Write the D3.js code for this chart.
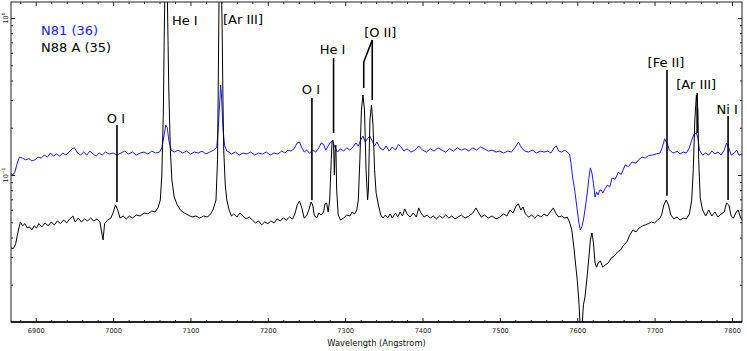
<!DOCTYPE html>
<html><head><meta charset="utf-8">
<script src="https://cdn.jsdelivr.net/npm/d3@7"></script>
<style>body{margin:0;background:#fff}svg{display:block}text{font-family:"DejaVu Sans",sans-serif}</style>
</head><body><svg id="c" width="747" height="351"></svg>
<script>
// ---------- DATA ----------
const seriesNames = ["N81 (36)", "N88 A (35)"];
// N81 (36): [wavelength (Å), flux]
const n81 = [[6868,0.103],[6870,0.100],[6873,0.104],[6876,0.119],[6879,0.130],[6883,0.128],[6887,0.125],[6891,0.127],[6895,0.123],[6899,0.125],[6903,0.130],[6907,0.128],[6911,0.134],[6915,0.130],[6919,0.138],[6923,0.132],[6927,0.136],[6931,0.132],[6935,0.138],[6939,0.134],[6943,0.140],[6947,0.147],[6950,0.149],[6954,0.138],[6958,0.134],[6962,0.140],[6966,0.134],[6970,0.142],[6974,0.136],[6978,0.132],[6982,0.138],[6986,0.134],[6990,0.140],[6995,0.136],[7000,0.138],[7005,0.134],[7010,0.138],[7015,0.142],[7020,0.136],[7025,0.140],[7030,0.134],[7035,0.138],[7040,0.140],[7045,0.136],[7050,0.142],[7055,0.138],[7060,0.140],[7063,0.149],[7066,0.180],[7068,0.208],[7070,0.200],[7072,0.167],[7075,0.144],[7079,0.140],[7084,0.144],[7090,0.138],[7095,0.142],[7100,0.136],[7105,0.140],[7110,0.138],[7115,0.142],[7120,0.136],[7125,0.140],[7130,0.144],[7134,0.150],[7136,0.200],[7138,0.300],[7139,0.374],[7140,0.330],[7142,0.200],[7144,0.155],[7147,0.142],[7150,0.140],[7153,0.136],[7158,0.140],[7163,0.134],[7168,0.138],[7173,0.136],[7178,0.140],[7183,0.134],[7188,0.138],[7193,0.136],[7198,0.140],[7203,0.134],[7208,0.138],[7213,0.136],[7218,0.142],[7222,0.138],[7226,0.144],[7230,0.142],[7234,0.147],[7238,0.160],[7241,0.162],[7244,0.149],[7247,0.140],[7250,0.144],[7254,0.138],[7258,0.144],[7262,0.140],[7266,0.149],[7269,0.160],[7272,0.157],[7275,0.144],[7278,0.153],[7281,0.162],[7284,0.164],[7287,0.149],[7290,0.140],[7294,0.147],[7298,0.142],[7302,0.149],[7306,0.144],[7310,0.151],[7314,0.160],[7317,0.153],[7320,0.167],[7323,0.177],[7326,0.162],[7329,0.171],[7332,0.177],[7335,0.164],[7338,0.153],[7341,0.162],[7345,0.149],[7349,0.144],[7353,0.153],[7357,0.142],[7361,0.151],[7365,0.144],[7369,0.157],[7372,0.151],[7376,0.142],[7380,0.147],[7385,0.140],[7390,0.144],[7395,0.153],[7400,0.144],[7405,0.140],[7410,0.147],[7415,0.142],[7420,0.149],[7425,0.144],[7430,0.140],[7435,0.147],[7440,0.142],[7445,0.149],[7450,0.144],[7455,0.147],[7460,0.142],[7465,0.149],[7470,0.144],[7475,0.151],[7480,0.147],[7485,0.142],[7490,0.144],[7495,0.140],[7500,0.142],[7505,0.138],[7510,0.142],[7515,0.140],[7520,0.151],[7524,0.162],[7528,0.149],[7532,0.142],[7537,0.140],[7542,0.144],[7547,0.138],[7552,0.142],[7557,0.140],[7562,0.142],[7566,0.138],[7570,0.149],[7573,0.153],[7576,0.142],[7580,0.140],[7584,0.144],[7587,0.140],[7590,0.136],[7592,0.118],[7594,0.097],[7597,0.078],[7600,0.0599],[7602,0.050],[7604,0.0447],[7606,0.0470],[7608,0.0517],[7610,0.060],[7613,0.0768],[7615,0.095],[7617,0.111],[7619,0.103],[7621,0.088],[7623,0.0724],[7625,0.078],[7627,0.0746],[7629,0.080],[7631,0.0802],[7633,0.0768],[7636,0.082],[7639,0.0863],[7642,0.084],[7645,0.0957],[7649,0.094],[7653,0.104],[7657,0.101],[7662,0.116],[7666,0.113],[7671,0.121],[7676,0.119],[7680,0.126],[7684,0.130],[7688,0.128],[7692,0.133],[7697,0.134],[7702,0.136],[7707,0.138],[7710,0.150],[7713,0.170],[7716,0.160],[7719,0.145],[7722,0.140],[7725,0.138],[7729,0.142],[7733,0.136],[7737,0.140],[7741,0.138],[7745,0.149],[7748,0.167],[7751,0.182],[7754,0.185],[7756,0.172],[7758,0.144],[7762,0.134],[7766,0.138],[7770,0.134],[7774,0.142],[7778,0.136],[7782,0.140],[7786,0.134],[7790,0.144],[7793,0.160],[7796,0.149],[7799,0.134],[7803,0.138],[7806,0.144],[7809,0.134],[7813,0.136]];
// N88 A (35): [wavelength (Å), flux]
const n88 = [[6868,0.0343],[6871,0.034],[6874,0.0364],[6877,0.0433],[6880,0.0502],[6883,0.0475],[6886,0.049],[6889,0.046],[6892,0.0467],[6895,0.0447],[6898,0.0475],[6901,0.046],[6904,0.049],[6908,0.0467],[6912,0.0495],[6916,0.0475],[6920,0.0502],[6924,0.0481],[6928,0.051],[6932,0.049],[6936,0.0517],[6940,0.0495],[6944,0.0525],[6948,0.0548],[6951,0.0502],[6955,0.0532],[6959,0.0502],[6963,0.0525],[6967,0.051],[6971,0.0532],[6975,0.051],[6979,0.0525],[6983,0.0502],[6986,0.0409],[6987,0.0386],[6989,0.049],[6993,0.0517],[6997,0.0532],[7000,0.0573],[7003,0.0644],[7006,0.0599],[7009,0.0532],[7013,0.0548],[7017,0.0525],[7021,0.0548],[7025,0.0532],[7030,0.0556],[7035,0.0548],[7040,0.0573],[7045,0.0565],[7050,0.059],[7054,0.0581],[7058,0.0617],[7061,0.0693],[7063,0.1],[7065,0.259],[7066,0.724],[7067,1.6],[7068,1.9],[7069,2.0],[7070,1.5],[7071,0.72],[7072,0.348],[7074,0.144],[7076,0.093],[7079,0.0724],[7083,0.0644],[7087,0.0599],[7092,0.0573],[7097,0.0556],[7102,0.054],[7107,0.0548],[7112,0.0532],[7117,0.0548],[7122,0.054],[7126,0.0565],[7129,0.0599],[7133,0.0693],[7135,0.125],[7136,0.403],[7137,1.5],[7138,1.8],[7139,1.9],[7140,1.6],[7141,0.839],[7142,0.3],[7143,0.144],[7145,0.0863],[7147,0.0693],[7150,0.0599],[7153,0.0548],[7156,0.0565],[7160,0.054],[7164,0.0573],[7168,0.0548],[7172,0.0525],[7176,0.054],[7180,0.0517],[7184,0.0495],[7188,0.051],[7192,0.0481],[7196,0.0502],[7200,0.049],[7204,0.051],[7208,0.0495],[7212,0.0525],[7216,0.051],[7220,0.0532],[7224,0.0517],[7228,0.054],[7232,0.0525],[7235,0.0565],[7238,0.0644],[7241,0.0683],[7244,0.0617],[7247,0.0532],[7250,0.0548],[7253,0.0599],[7256,0.0673],[7258,0.0644],[7260,0.0556],[7263,0.0532],[7266,0.0573],[7269,0.0556],[7272,0.0581],[7274,0.0654],[7276,0.0663],[7278,0.0581],[7280,0.0693],[7282,0.125],[7283,0.162],[7284,0.167],[7285,0.155],[7286,0.1],[7287,0.144],[7288,0.155],[7289,0.0802],[7291,0.0556],[7294,0.0517],[7298,0.0532],[7302,0.0556],[7306,0.0548],[7309,0.0581],[7312,0.0565],[7315,0.0599],[7317,0.0693],[7319,0.125],[7321,0.259],[7323,0.323],[7325,0.259],[7327,0.108],[7329,0.0693],[7330,0.0802],[7332,0.224],[7334,0.279],[7336,0.208],[7338,0.108],[7340,0.0768],[7343,0.0644],[7346,0.0556],[7349,0.0532],[7352,0.0556],[7355,0.0532],[7358,0.0565],[7361,0.0532],[7365,0.0573],[7368,0.054],[7371,0.0581],[7374,0.0548],[7377,0.0608],[7380,0.0565],[7384,0.054],[7388,0.0573],[7392,0.054],[7395,0.0617],[7398,0.0573],[7402,0.054],[7406,0.0556],[7410,0.0532],[7414,0.0548],[7418,0.0525],[7422,0.0548],[7426,0.0532],[7430,0.0556],[7434,0.0532],[7438,0.0548],[7442,0.0525],[7446,0.054],[7450,0.0556],[7455,0.0532],[7460,0.0548],[7465,0.0573],[7469,0.0617],[7472,0.0581],[7476,0.054],[7480,0.0556],[7485,0.0532],[7490,0.0548],[7495,0.0525],[7500,0.054],[7505,0.0565],[7509,0.0548],[7513,0.0599],[7517,0.0573],[7521,0.0635],[7524,0.0654],[7527,0.0599],[7530,0.0626],[7533,0.0565],[7537,0.054],[7541,0.0556],[7545,0.0532],[7549,0.0556],[7553,0.054],[7557,0.0565],[7561,0.0548],[7565,0.0581],[7569,0.0617],[7572,0.0573],[7576,0.054],[7580,0.0548],[7584,0.0532],[7587,0.054],[7590,0.0502],[7593,0.0447],[7596,0.0333],[7598,0.0267],[7600,0.0214],[7602,0.016],[7604,0.0105],[7606,0.0105],[7608,0.0149],[7610,0.0167],[7613,0.0231],[7615,0.0296],[7617,0.0386],[7619,0.0427],[7621,0.0369],[7623,0.0275],[7625,0.0259],[7627,0.0275],[7630,0.0283],[7633,0.0259],[7636,0.0267],[7640,0.0275],[7644,0.0296],[7648,0.0305],[7652,0.0323],[7656,0.0333],[7660,0.0358],[7664,0.0374],[7668,0.0415],[7672,0.0447],[7676,0.0434],[7680,0.046],[7684,0.0473],[7688,0.0481],[7692,0.049],[7696,0.0502],[7700,0.0495],[7704,0.0517],[7707,0.0532],[7709,0.0556],[7712,0.0644],[7715,0.0693],[7718,0.0644],[7721,0.0556],[7725,0.0525],[7729,0.054],[7733,0.0517],[7737,0.0532],[7741,0.0525],[7745,0.0565],[7748,0.0693],[7750,0.108],[7752,0.224],[7754,0.323],[7756,0.259],[7757,0.125],[7759,0.0714],[7762,0.0599],[7766,0.0548],[7770,0.0599],[7774,0.0548],[7778,0.0581],[7782,0.054],[7786,0.0565],[7790,0.0581],[7793,0.0663],[7796,0.0644],[7799,0.0548],[7802,0.0532],[7805,0.0573],[7808,0.0599],[7811,0.054],[7813,0.0517]];

// line identifications: name, wavelength of marker, marker top flux, marker bottom flux (null = label only)
const lineNames  = ["O I", "He I", "[Ar III]", "O I", "He I", "[Fe II]", "[Ar III]", "Ni I"];
const lineWaves  = [7005, 7076, 7142, 7257, 7285, 7716, 7755, 7795];
const lineTops   = [0.208, null, null, 0.309, 0.556, 0.466, 0.333, 0.238];
const lineBots   = [0.0673, null, null, 0.0693, 0.185, 0.0737, 0.185, 0.0693];
const labelFlux  = [0.214, 0.902, 0.916, 0.328, 0.59, 0.49, 0.354, 0.245];
// [O II] doublet marker
const o2Waves = [7324, 7335];
const o2Flux  = {left: [0.358, 0.524], apex: 0.724, right: 0.300, label: 0.76};

const xTicks = [6900, 7000, 7100, 7200, 7300, 7400, 7500, 7600, 7700, 7800];
const yTicks = [0.1, 1];
const yTickExp = ["\u22121", "0"];
const xDomain = [6868, 7813];
const yDomain = [0.01158, 1.2646];

// ---------- CHART ----------
const svg = d3.select("#c");
const L = 11, R = 742, T = 2, B = 322;
const x = d3.scaleLinear().domain(xDomain).range([L, R]);
const y = d3.scaleLog().domain(yDomain).range([B, T]);

svg.append("defs").append("clipPath").attr("id", "clip")
  .append("rect").attr("x", L).attr("y", T).attr("width", R - L).attr("height", B - T);

const line = d3.line().x(d => x(d[0])).y(d => y(d[1]));
const g = svg.append("g").attr("clip-path", "url(#clip)");
g.append("path").datum(n81).attr("d", line).attr("fill", "none").attr("stroke", "#1a1aff").attr("stroke-width", 1).attr("stroke-linejoin", "round");
g.append("path").datum(n88).attr("d", line).attr("fill", "none").attr("stroke", "#000").attr("stroke-width", 1).attr("stroke-linejoin", "round");

// markers
const ann = svg.append("g");
lineNames.forEach((nm, i) => {
  if (lineTops[i] !== null) {
    ann.append("line").attr("x1", x(lineWaves[i])).attr("x2", x(lineWaves[i]))
      .attr("y1", y(lineTops[i])).attr("y2", y(lineBots[i]))
      .attr("stroke", "#000").attr("stroke-width", 1.6);
    ann.append("text").attr("x", x(lineWaves[i]) - 1).attr("y", y(labelFlux[i]))
      .attr("text-anchor", "middle").attr("font-size", 13).text(nm);
  } else {
    ann.append("text").attr("x", x(lineWaves[i])).attr("y", y(labelFlux[i]))
      .attr("text-anchor", "start").attr("font-size", 13).text(nm);
  }
});
ann.append("path")
  .attr("d", `M${x(o2Waves[0])},${y(o2Flux.left[0])}L${x(o2Waves[0])},${y(o2Flux.left[1])}L${x(o2Waves[1])},${y(o2Flux.apex)}`)
  .attr("fill", "none").attr("stroke", "#000").attr("stroke-width", 1.6);
ann.append("line").attr("x1", x(o2Waves[1])).attr("x2", x(o2Waves[1]))
  .attr("y1", y(o2Flux.apex)).attr("y2", y(o2Flux.right)).attr("stroke", "#000").attr("stroke-width", 1.6);
ann.append("text").attr("x", x(o2Waves[1]) + 8).attr("y", y(o2Flux.label))
  .attr("text-anchor", "middle").attr("font-size", 13).text("[O II]");

// legend
svg.append("text").attr("x", 41).attr("y", 35).attr("font-size", 13).attr("fill", "#1a1aff").text(seriesNames[0]);
svg.append("text").attr("x", 41).attr("y", 52).attr("font-size", 13).attr("fill", "#000").text(seriesNames[1]);

// axes
const xMinor = d3.range(6880, 7813, 20).filter(v => v % 100 !== 0);
const yMinor = [];
[0.01, 0.1, 1].forEach(dec => { for (let k = 2; k <= 9; k++) { const v = k * dec; if (v > yDomain[0] && v < yDomain[1]) yMinor.push(+v.toPrecision(3)); } });

function style(sel) {
  sel.select(".domain").remove();
  sel.selectAll("line").attr("stroke", "#222").attr("stroke-width", 1);
  sel.selectAll("text").attr("font-family", "DejaVu Sans, sans-serif").attr("fill", "#222");
}
svg.append("g").attr("transform", `translate(0,${B})`)
  .call(d3.axisBottom(x).tickValues(xTicks).tickSize(-4).tickPadding(6).tickFormat(d3.format("d")))
  .call(style).selectAll("text").attr("font-size", 6.6);
svg.append("g").attr("transform", `translate(0,${B})`)
  .call(d3.axisBottom(x).tickValues(xMinor).tickSize(-2).tickFormat("")).call(style);
svg.append("g").attr("transform", `translate(0,${T})`)
  .call(d3.axisTop(x).tickValues(xTicks).tickSize(-4).tickFormat("")).call(style);
svg.append("g").attr("transform", `translate(0,${T})`)
  .call(d3.axisTop(x).tickValues(xMinor).tickSize(-2).tickFormat("")).call(style);
svg.append("g").attr("transform", `translate(${L},0)`)
  .call(d3.axisLeft(y).tickValues(yTicks).tickSize(-4).tickFormat("")).call(style);
svg.append("g").attr("transform", `translate(${L},0)`)
  .call(d3.axisLeft(y).tickValues(yMinor).tickSize(-2).tickFormat("")).call(style);
svg.append("g").attr("transform", `translate(${R},0)`)
  .call(d3.axisRight(y).tickValues(yTicks).tickSize(-4).tickFormat("")).call(style);
svg.append("g").attr("transform", `translate(${R},0)`)
  .call(d3.axisRight(y).tickValues(yMinor).tickSize(-2).tickFormat("")).call(style);

// y tick labels (rotated, matplotlib style)
yTicks.forEach((v, i) => {
  const t = svg.append("text").attr("transform", `translate(8,${y(v)}) rotate(-90)`)
    .attr("text-anchor", "middle").attr("font-size", 6.5).attr("fill", "#222");
  t.append("tspan").text("10");
  t.append("tspan").attr("dy", -3).attr("font-size", 4.5).text(yTickExp[i]);
});

// frame
svg.append("rect").attr("x", L).attr("y", T).attr("width", R - L).attr("height", B - T)
  .attr("fill", "none").attr("stroke", "#222").attr("stroke-width", 1);
svg.append("line").attr("x1", L).attr("x2", R).attr("y1", B).attr("y2", B).attr("stroke", "#000").attr("stroke-width", 1.5);

// x label
svg.append("text").attr("x", (L + R) / 2).attr("y", 346).attr("text-anchor", "middle")
  .attr("font-size", 8.3).attr("fill", "#111").text("Wavelength (Angstrom)");
</script></body></html>
